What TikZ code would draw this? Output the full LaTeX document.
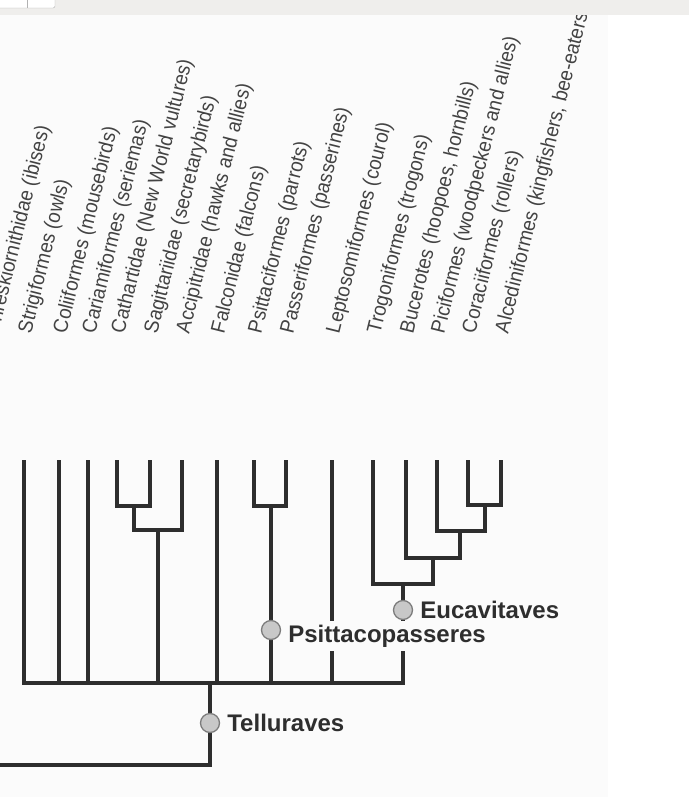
\documentclass[tikz,border=0pt]{standalone}
\usepackage{fontspec}
\setmainfont{Liberation Sans}
\setsansfont{Liberation Sans}
\newfontfamily\narrowsans[FakeStretch=0.93]{Liberation Sans}
\usetikzlibrary{positioning}
\definecolor{ink}{HTML}{2E2E2E}
\definecolor{dotfill}{HTML}{C8C8C8}
\definecolor{dotline}{HTML}{7C7C7C}
\definecolor{paper}{HTML}{FBFBFB}
\definecolor{bar}{HTML}{EFEEEC}

\begin{document}
\begin{tikzpicture}[x=1pt,y=-1pt,font=\sffamily,
  branch/.style={ink,line width=3.2pt},
  taxon/.style={rotate=76,anchor=west,inner sep=0pt,text=ink!90,font=\narrowsans\fontsize{20.5}{24}\selectfont},
  clade/.style={circle,draw=dotline,fill=dotfill,line width=1.3pt,minimum size=19pt,inner sep=0pt},
  cladename/.style={anchor=west,inner sep=2pt,text=ink,font=\sffamily\bfseries\fontsize{24}{28}\selectfont}]
  \useasboundingbox (0,0) rectangle (689,797);
  \fill[white] (0,0) rectangle (689,797);
  \fill[paper] (0,15) rectangle (608,797);

  \node[taxon] (thresk-l) at (-7,333) {Threskiornithidae (ibises)};
  \node[taxon] (strig-l) at (26,333) {Strigiformes (owls)};
  \node[taxon] (colii-l) at (61,333) {Coliiformes (mousebirds)};
  \node[taxon] (cariam-l) at (90,333) {Cariamiformes (seriemas)};
  \node[taxon] (cathar-l) at (119,333) {Cathartidae (New World vultures)};
  \node[taxon] (sagitt-l) at (152,333) {Sagittariidae (secretarybirds)};
  \node[taxon] (accip-l) at (184,333) {Accipitridae (hawks and allies)};
  \node[taxon] (falcon-l) at (219,333) {Falconidae (falcons)};
  \node[taxon] (psitt-l) at (256,333) {Psittaciformes (parrots)};
  \node[taxon] (passer-l) at (288,333) {Passeriformes (passerines)};
  \node[taxon] (lepto-l) at (334,333) {Leptosomiformes (courol)};
  \node[taxon] (trogon-l) at (375,333) {Trogoniformes (trogons)};
  \node[taxon] (bucer-l) at (408,333) {Bucerotes (hoopoes, hornbills)};
  \node[taxon] (picif-l) at (439,333) {Piciformes (woodpeckers and allies)};
  \node[taxon] (corac-l) at (470,333) {Coraciiformes (rollers)};
  \node[taxon] (alced-l) at (503,333) {Alcediniformes (kingfishers, bee-eaters)};

  \coordinate (strig) at (24,460);
  \coordinate (colii) at (59,460);
  \coordinate (cariam) at (88,460);
  \coordinate (cathar) at (117,460);
  \coordinate (sagitt) at (150,460);
  \coordinate (accip) at (182,460);
  \coordinate (falcon) at (217,460);
  \coordinate (psitt) at (254,460);
  \coordinate (passer) at (286,460);
  \coordinate (lepto) at (332,460);
  \coordinate (trogon) at (373,460);
  \coordinate (bucer) at (406,460);
  \coordinate (picif) at (437,460);
  \coordinate (corac) at (468,460);
  \coordinate (alced) at (501,460);

  \coordinate (nCS) at (134,506);
  \coordinate (nAcc) at (158,530);
  \coordinate (nPP) at (271,506);
  \coordinate (nCA) at (485,505);
  \coordinate (nPic) at (460,531);
  \coordinate (nBuc) at (433,558);
  \coordinate (nEuc) at (403,584);
  \coordinate (nTel) at (210,683);
  \coordinate (outgroup) at (-20,765);

  \draw[branch] (cathar) |- (nCS) -| (sagitt);
  \draw[branch] (nCS) |- (nAcc) -| (accip);
  \draw[branch] (psitt) |- (nPP) -| (passer);
  \draw[branch] (corac) |- (nCA) -| (alced);
  \draw[branch] (picif) |- (nPic) -| (nCA);
  \draw[branch] (bucer) |- (nBuc) -| (nPic);
  \draw[branch] (trogon) |- (nEuc) -| (nBuc);
  \draw[branch] (strig) |- (nTel) -| (nEuc);
  \draw[branch] (colii) -- (colii |- nTel);
  \draw[branch] (cariam) -- (cariam |- nTel);
  \draw[branch] (nAcc) -- (nAcc |- nTel);
  \draw[branch] (falcon) -- (falcon |- nTel);
  \draw[branch] (nPP) -- (nPP |- nTel);
  \draw[branch] (lepto) -- (lepto |- nTel);
  \draw[branch] (nTel) |- (outgroup);

  \node[clade] (tell) at (210,723) {};
  \node[clade] (psit) at (271,630) {};
  \node[clade] (euca) at (403,610) {};
  \node[cladename,right=5pt of tell] (tell-n) {Telluraves};
  \node[cladename,right=5pt of psit,yshift=-6pt,fill=paper,inner ysep=4pt] (psit-n) {Psittacopasseres};
  \node[cladename,right=5pt of euca] (euca-n) {Eucavitaves};

  \fill[bar] (0,0) rectangle (689,15);
  \filldraw[fill=white,draw=black!30,rounded corners=2pt] (-3,-3) rectangle (55,8);
  \draw[black!30] (27,-3) -- (27,8);
\end{tikzpicture}
\end{document}
